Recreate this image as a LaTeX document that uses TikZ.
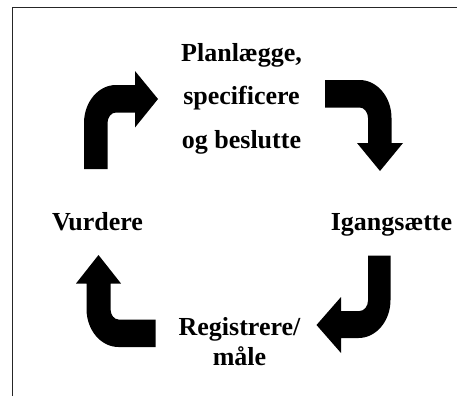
\documentclass[tikz,border=0pt]{standalone}
\usepackage{fontspec}
\setmainfont{Liberation Serif}
\usetikzlibrary{calc}

\begin{document}
\begin{tikzpicture}[x=1pt,y=-1pt,line width=1pt,
  stage/.style={font=\fontsize{26}{43.5}\selectfont\bfseries,inner sep=0pt,align=center,anchor=base},
  bentarrow/.style={fill=black,draw=none}]
  \useasboundingbox (0,0) rectangle (457,396);
  % ramme (kun top og venstre side)
  \draw[black!85] (12,396) -- (12,8) -- (457,8);
  % faser
  \node[stage] (plan) at (241.5,148) {Planlægge,\\specificere\\og beslutte};
  \node[stage] (vurd) at (97.5,230) {Vurdere};
  \node[stage] (igang) at (391.5,230) {Igangsætte};
  \node[stage,font=\fontsize{26}{30}\selectfont\bfseries] (reg) at (239.5,365) {Registrere/\\måle};
  % buede pile
  \fill[bentarrow] (84,169) -- (84,123) arc[start angle=180,end angle=270,x radius=32,y radius=38]
    -- (135,85) -- (135,71) -- (158,99) -- (135,127.5) -- (135,112.5) -- (116,112.5)
    arc[start angle=270,end angle=180,x radius=8.5,y radius=10.5] -- (107.5,169) -- cycle;
  \fill[bentarrow] (325,80) -- (359.5,80) arc[start angle=270,end angle=360,x radius=32,y radius=38]
    -- (391.5,143) -- (403,143) -- (380,171) -- (357,143) -- (368,143) -- (368,118)
    arc[start angle=0,end angle=-90,x radius=8.5,y radius=10.5] -- (325,107.5) -- cycle;
  \fill[bentarrow] (368,255.5) -- (390.5,255.5) -- (390.5,300) arc[start angle=0,end angle=90,x radius=32,y radius=38]
    -- (341,338) -- (341,353) -- (316.5,325) -- (341,297) -- (341,311) -- (359.5,311)
    arc[start angle=90,end angle=0,x radius=8.5,y radius=10.5] -- cycle;
  \fill[bentarrow] (155.5,347) -- (118.5,347) arc[start angle=90,end angle=180,x radius=32,y radius=38]
    -- (86.5,283.5) -- (76,283.5) -- (98.5,255) -- (121,283.5) -- (110.5,283.5) -- (110.5,309)
    arc[start angle=180,end angle=90,x radius=8,y radius=10.5] -- (155.5,319.5) -- cycle;
\end{tikzpicture}
\end{document}
